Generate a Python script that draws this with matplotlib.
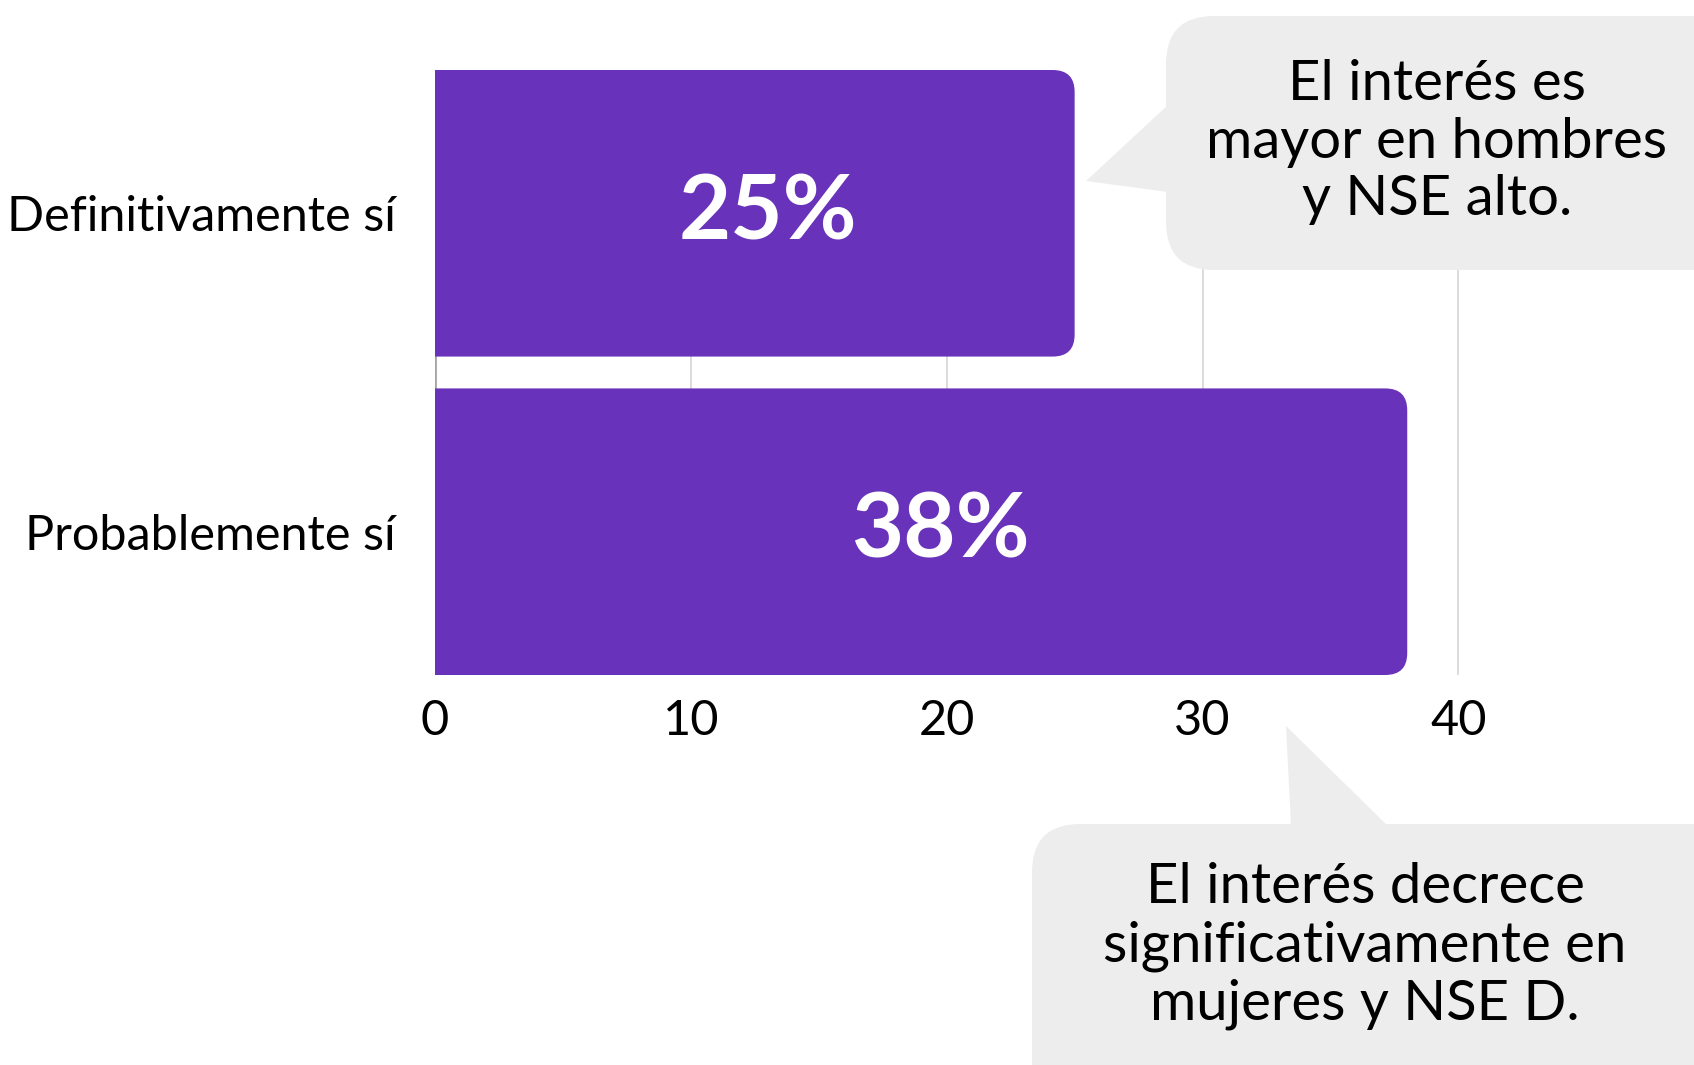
import matplotlib.pyplot as plt
from matplotlib.patches import FancyBboxPatch, Polygon, PathPatch
from matplotlib.path import Path
from matplotlib.transforms import IdentityTransform

categorias = ["Definitivamente sí", "Probablemente sí"]
valores = [25, 38]
etiquetas = ["25%", "38%"]
ticks_x = [0, 10, 20, 30, 40]
nota_1 = "El interés es\nmayor en hombres\ny NSE alto."
nota_2 = "El interés decrece\nsignificativamente en\nmujeres y NSE D."

morado = "#6832BB"
gris_nota = "#EDEDED"

plt.rcParams['font.family'] = ['Lato', 'DejaVu Sans']

W, H = 1694, 1065
fig = plt.figure(figsize=(W / 100, H / 100), dpi=100)

# position de l'axe (pixels de la référence)
x0_px, x1_px, y_top_px, y_bot_px = 435, 1484, 70, 675
ax = fig.add_axes([x0_px / W, 1 - y_bot_px / H, (x1_px - x0_px) / W, (y_bot_px - y_top_px) / H])

xmax = 41
ax.set_xlim(0, xmax)
ax.set_ylim(1.45, -0.45)

pos = list(range(len(categorias)))
bars = ax.barh(pos, valores, height=0.9, color=morado, zorder=3)

# coins arrondis à droite seulement
px_x = (x1_px - x0_px) / xmax
px_y = (y_bot_px - y_top_px) / 1.9
r_px = 22
rx, ry = r_px / px_x, r_px / px_y
for b in bars:
    bx, by, bw, bh = b.get_x(), b.get_y(), b.get_width(), b.get_height()
    b.set_visible(False)
    xa, xb, ya, yb = bx, bx + bw, by, by + bh
    verts = [(xa, ya), (xb - rx, ya), (xb, ya), (xb, ya + ry), (xb, yb - ry),
             (xb, yb), (xb - rx, yb), (xa, yb), (xa, ya)]
    codes = [Path.MOVETO, Path.LINETO, Path.CURVE3, Path.CURVE3, Path.LINETO,
             Path.CURVE3, Path.CURVE3, Path.LINETO, Path.CLOSEPOLY]
    ax.add_patch(PathPatch(Path(verts, codes), fc=morado, ec="none", zorder=3))

for p, v, t in zip(pos, valores, etiquetas):
    ax.text(v * 0.52, p, t, ha="center", va="center", color="white",
            fontsize=65, fontweight="bold", zorder=4)

ax.set_yticks(pos)
ax.set_yticklabels(categorias)
ax.set_xticks(ticks_x)
ax.tick_params(axis="y", length=0, pad=28, labelsize=35)
ax.tick_params(axis="x", length=0, pad=17, labelsize=35)
for s in ax.spines.values():
    s.set_visible(False)
ax.grid(axis="x", color="#D9D9D9", linewidth=1.3, zorder=0)
ax.set_axisbelow(True)
ax.axvline(0, color="#A6A6A6", linewidth=2, zorder=1)


def callout(x, y, w, h, tri, text, tx, ty):
    # coordonnées en pixels, origine en haut à gauche
    box = FancyBboxPatch((x, H - y - h), w, h, boxstyle="round,pad=0,rounding_size=48",
                         fc=gris_nota, ec="none", transform=IdentityTransform(), zorder=5)
    fig.add_artist(box)
    tri_pts = [(a, H - b) for a, b in tri]
    fig.add_artist(Polygon(tri_pts, closed=True, fc=gris_nota, ec="none",
                           transform=IdentityTransform(), zorder=5))
    fig.text(tx / W, 1 - ty / H, text, ha="center", va="center", multialignment="center",
             fontsize=40.5, linespacing=1.17, zorder=6)


callout(1166, 16, 600, 254, [(1086, 181), (1168, 105), (1168, 192)], nota_1, 1437, 142)
callout(1032, 824, 720, 300, [(1286, 726), (1291, 826), (1388, 826)], nota_2, 1365, 946)

fig.savefig("out.png", dpi=100)
